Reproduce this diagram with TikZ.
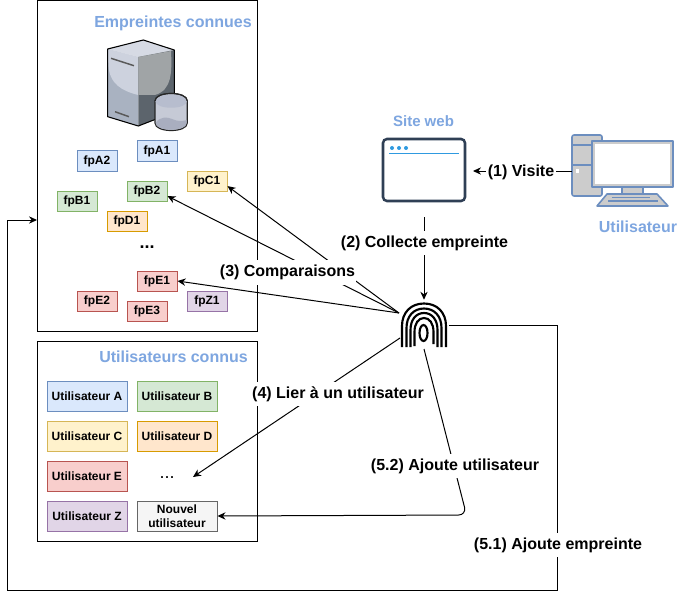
\documentclass[tikz,border=0pt]{standalone}
\usepackage{fontspec}
\setmainfont{Liberation Sans}
\usetikzlibrary{arrows.meta}
\definecolor{titleblue}{HTML}{7EA6E0}
\definecolor{blueF}{HTML}{DAE8FC}\definecolor{blueD}{HTML}{6C8EBF}
\definecolor{greenF}{HTML}{D5E8D4}\definecolor{greenD}{HTML}{82B366}
\definecolor{yellowF}{HTML}{FFF2CC}\definecolor{yellowD}{HTML}{D6B656}
\definecolor{orangeF}{HTML}{FFE6CC}\definecolor{orangeD}{HTML}{D79B00}
\definecolor{redF}{HTML}{F8CECC}\definecolor{redD}{HTML}{B85450}
\definecolor{purpleF}{HTML}{E1D5E7}\definecolor{purpleD}{HTML}{9673A6}
\definecolor{greyF}{HTML}{F5F5F5}\definecolor{greyD}{HTML}{666666}
\definecolor{webdark}{HTML}{2F3F55}\definecolor{webblue}{HTML}{2F9AE0}
\definecolor{srvTop}{HTML}{D6DAE4}\definecolor{srvLU}{HTML}{CDD2DE}\definecolor{srvLL}{HTML}{A9B2C1}
\definecolor{srvRU}{HTML}{A0A4A6}\definecolor{srvRL}{HTML}{5C646C}\definecolor{srvEdge}{HTML}{4A5058}
\definecolor{cylTop}{HTML}{B7BDCE}\definecolor{cylBody}{HTML}{C6CAD6}\definecolor{cylLow}{HTML}{A9AEBF}
\definecolor{pcGrey}{HTML}{CCCCCC}
\newcommand{\fingerarch}[6]{% cx halfwidth top springY botL botR
  \draw[fingerline] (#1-#2,#5) -- (#1-#2,#4)
    .. controls (#1-#2,#4-0.6*#4+0.6*#3) and (#1-0.6*#2,#3) .. (#1,#3)
    .. controls (#1+0.6*#2,#3) and (#1+#2,#4-0.6*#4+0.6*#3) .. (#1+#2,#4) -- (#1+#2,#6);}
\tikzset{
  x=0.75pt,y=-0.75pt,
  every node/.style={font=\bfseries},
  panel/.style={draw=black,line width=0.75pt,fill=white},
  fpbox/.style={draw,line width=0.75pt,minimum width=30pt,minimum height=15pt,inner sep=0pt,font=\bfseries\fontsize{9}{10.5}\selectfont},
  userbox/.style={draw,line width=0.75pt,minimum width=60pt,minimum height=22.5pt,inner sep=0pt,align=center,font=\bfseries\fontsize{9}{10.5}\selectfont},
  blueB/.style={fill=blueF,draw=blueD},
  greenB/.style={fill=greenF,draw=greenD},
  yellowB/.style={fill=yellowF,draw=yellowD},
  orangeB/.style={fill=orangeF,draw=orangeD},
  redB/.style={fill=redF,draw=redD},
  purpleB/.style={fill=purpleF,draw=purpleD},
  greyB/.style={fill=greyF,draw=greyD},
  titletext/.style={text=titleblue,inner sep=0pt,font=\bfseries\fontsize{12}{14}\selectfont},
  steplabel/.style={fill=white,inner xsep=1pt,inner ysep=0pt,minimum height=18.5pt,font=\bfseries\fontsize{12}{14}\selectfont},
  conn/.style={draw=black,line width=0.75pt,-{Stealth[length=6pt,width=5.5pt]}},
  fingerline/.style={draw=black,line width=1.6pt,line cap=butt},
}
\begin{document}
\begin{tikzpicture}
\useasboundingbox (0,0) rectangle (688,599);
\fill[white] (0,0) rectangle (688,599);

% panels
\node[panel,minimum width=165pt,minimum height=247.5pt,inner sep=0pt] (panelA) at (147,166) {};
\node[panel,minimum width=165pt,minimum height=150pt,inner sep=0pt] (panelB) at (147,441) {};
\node[titletext] (titleA) at (173,23) {Empreintes connues};
\node[titletext] (titleB) at (173.5,357) {Utilisateurs connus};

% server icon
\fill[srvLL] (107.7,49) -- (138.3,57) -- (138.3,126) -- (107.7,116.7) -- cycle;
\fill[srvLU] (107.7,49) -- (138.3,57) -- (138.3,95) .. controls (122,91) and (109,84) .. (108.3,64) -- cycle;
\fill[srvTop] (107.7,49) -- (143.3,40) -- (174.3,50) -- (138.3,57) -- cycle;
\fill[srvRL] (138.3,57) -- (174.3,50) -- (174.3,112) -- (138.3,126) -- cycle;
\fill[srvRU] (138.3,57) -- (171,51) .. controls (172,72) and (172,90) .. (155,95) -- (138.3,95) -- cycle;
\draw[draw=black,line width=0.8pt,line join=round] (107.7,49) -- (143.3,40) -- (174.3,50) -- (174.3,112) -- (138.3,126) -- (107.7,116.7) -- cycle;
\draw[draw=black!65,line width=1.1pt] (111,58.3) -- (134,65.7);
\draw[draw=black!65,line width=1.1pt] (115,111.7) -- (129,116.7);
\filldraw[draw=black!85,line width=0.9pt,fill=cylBody] (155,101) .. controls (155,91) and (187.3,91) .. (187.3,101) -- (187.3,123) .. controls (187.3,133) and (155,133) .. (155,123) -- cycle;
\fill[cylTop] (155.4,101) .. controls (155.4,92) and (186.9,92) .. (186.9,101) .. controls (186.9,110) and (155.4,110) .. (155.4,101) -- cycle;
\fill[cylLow] (155.6,123) .. controls (160,116) and (168,117) .. (172,119) .. controls (178,122) and (184,121) .. (186.7,120) -- (186.7,123) .. controls (186.7,132) and (155.6,132) .. (155.6,123) -- cycle;
\draw[draw=black!85,line width=0.9pt] (155,101) .. controls (155,91) and (187.3,91) .. (187.3,101);

% fingerprint ids
\node[fpbox,blueB] (fpA1) at (157,151) {fpA1};
\node[fpbox,blueB] (fpA2) at (97,161) {fpA2};
\node[fpbox,yellowB] (fpC1) at (207,181) {fpC1};
\node[fpbox,greenB] (fpB2) at (147,191) {fpB2};
\node[fpbox,greenB] (fpB1) at (77,201) {fpB1};
\node[fpbox,orangeB] (fpD1) at (127,221) {fpD1};
\node[inner sep=0pt,font=\bfseries\fontsize{13.5}{14}\selectfont] (fpdots) at (147,247) {...};
\node[fpbox,redB] (fpE1) at (157,281) {fpE1};
\node[fpbox,redB] (fpE2) at (97,301) {fpE2};
\node[fpbox,redB] (fpE3) at (147,311) {fpE3};
\node[fpbox,purpleB] (fpZ1) at (207,301) {fpZ1};

% users
\node[userbox,blueB] (uA) at (87,396) {Utilisateur A};
\node[userbox,greenB] (uB) at (177,396) {Utilisateur B};
\node[userbox,yellowB] (uC) at (87,436) {Utilisateur C};
\node[userbox,orangeB] (uD) at (177,436) {Utilisateur D};
\node[userbox,redB] (uE) at (87,476) {Utilisateur E};
\node[inner sep=0pt,font=\mdseries\fontsize{13.5}{14}\selectfont] (udots) at (167,478) {...};
\node[userbox,purpleB] (uZ) at (87,516) {Utilisateur Z};
\node[userbox,greyB] (uN) at (177,516) {Nouvel\\utilisateur};

% website icon
\node[titletext,font=\bfseries\fontsize{11.25}{13}\selectfont] (titleW) at (423.5,121) {Site web};
\node[draw=webdark,fill=white,line width=1.9pt,rounded corners=3pt,minimum width=61.5pt,minimum height=46.5pt,inner sep=0pt] (web) at (424,170) {};
\fill[webblue] (392,148) circle[radius=2];
\fill[webblue] (399,148) circle[radius=2];
\fill[webblue] (406,148) circle[radius=2];
\draw[webblue,line width=0.75pt] (389,154) -- (459,154);

% computer icon
\begin{scope}[draw=blueD,line width=1.2pt,line join=round]
\filldraw[fill=pcGrey,rounded corners=1.5pt] (572,135) rectangle (602,196);
\draw (572,145) -- (602,145);
\draw (572,165) -- (602,165);
\fill[white] (575.5,169) rectangle (579,172.5);
\filldraw[fill=pcGrey] (622,187) rectangle (643,194);
\filldraw[fill=pcGrey] (607,194) -- (657,194) -- (668,206) -- (597,206) -- cycle;
\draw[line width=1pt] (612,197.5) -- (650,197.5);
\draw[line width=1pt] (608,201) -- (658,201);
\filldraw[fill=pcGrey] (592,141) rectangle (673,187);
\fill[white] (595,144.5) rectangle (670,183.5);
\end{scope}
\node[titletext] (titleU) at (638,227) {Utilisateur};

% fingerprint icon
\node[minimum width=37.5pt,minimum height=37.5pt,inner sep=0pt] (fp) at (424,325) {};
\fingerarch{424}{22}{303.5}{326}{347}{347}
\fingerarch{424}{17.5}{308.5}{328}{347}{347}
\fingerarch{424}{13.5}{313}{330}{347}{347}
\fingerarch{424}{9.5}{318}{332}{346}{344}
\draw[fingerline] (423.5,333) ellipse[x radius=4,y radius=8];

\coordinate (fpNW) at (399,313);
\coordinate (fpSW) at (400,338);
\coordinate (fpBot) at (424,349);
\coordinate (webOut) at (424,217);
\coordinate (cBend) at (466.5,515);
\coordinate (rA) at (557,325);
\coordinate (rB) at (557,590);
\coordinate (rC) at (7,590);
\coordinate (rD) at (7,220);
\coordinate (pIn) at (37,220);
\coordinate (dotsIn) at (193,477);
\coordinate (visitOut) at (572,171);
\coordinate (visitIn) at (473,171);

% connectors
\draw[conn] (visitOut) -- (visitIn);
\draw[conn] (webOut) -- (fp.north);
\draw[conn] (fpNW) -- (fpC1.-14);
\draw[conn] (fpNW) -- (fpB2.-14);
\draw[conn] (fpNW) -- (fpE1.east);
\draw[conn] (fpSW) -- (dotsIn);
\draw[conn,rounded corners=6pt] (fpBot) -- (cBend) -- (uN.east);
\draw[conn] (fp.east) -- (rA) -- (rB) -- (rC) -- (rD) -- (pIn);

% labels
\node[steplabel] (l1) at (521,172) {(1) Visite};
\node[steplabel] (l2) at (424.5,243) {(2) Collecte empreinte};
\node[steplabel] (l3) at (287.5,272.5) {(3) Comparaisons};
\node[steplabel] (l4) at (338,394) {(4) Lier à un utilisateur};
\node[steplabel] (l52) at (455,466) {(5.2) Ajoute utilisateur};
\node[steplabel] (l51) at (558,545) {(5.1) Ajoute empreinte};
\end{tikzpicture}
\end{document}
